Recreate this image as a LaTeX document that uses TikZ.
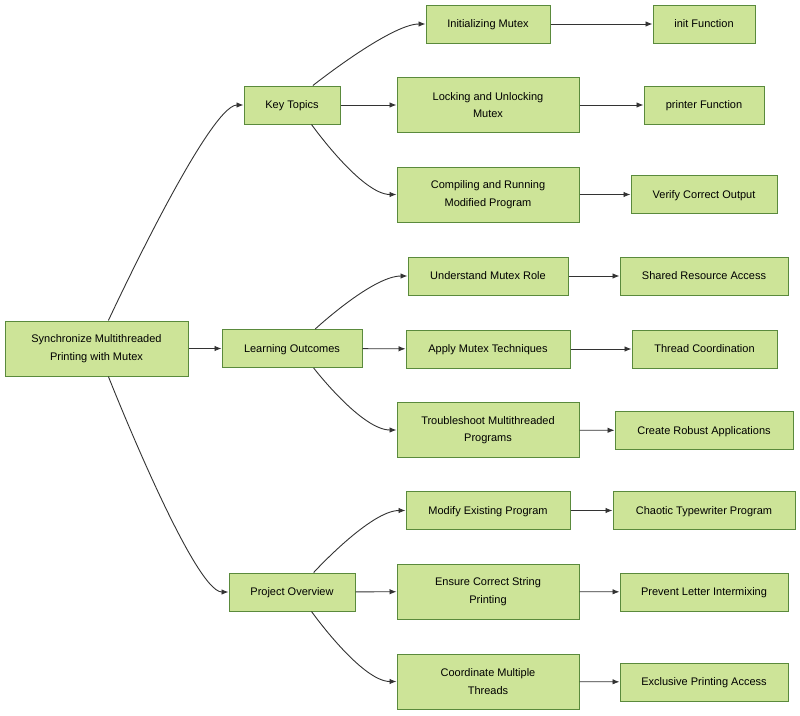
\documentclass[tikz,border=0pt]{standalone}
\usepackage{fontspec}
\setmainfont{Liberation Sans}
\usetikzlibrary{arrows.meta}
\definecolor{boxfill}{HTML}{CDE498}
\definecolor{boxline}{HTML}{5A8A3C}
\definecolor{edgeline}{HTML}{333333}
\begin{document}
\begin{tikzpicture}[x=1pt, y=-1pt,
		tall/.style={draw=boxline, fill=boxfill, line width=1pt, inner sep=0pt, align=center, minimum height=55pt, font=\fontsize{11}{17.5}\selectfont},
		box/.style={tall, minimum height=38pt, text height=9.5pt, text depth=2pt},
		edge/.style={draw=edgeline, line width=0.9pt, -{Latex[length=7pt,width=5.5pt]}}]
	\useasboundingbox (0,0) rectangle (800,715);
			% root and first level
			\node (root) [tall, minimum width=183pt] at (96.5,348.5) {Synchronize Multithreaded\\Printing with Mutex};
			\node (kt) [box, minimum width=96pt] at (292,105) {Key Topics};
			\node (lo) [box, minimum width=140pt] at (292,348.5) {Learning Outcomes};
			\node (po) [box, minimum width=126pt] at (292,592) {Project Overview};
			% second level
			\node (init) [box, minimum width=124pt] at (488,24) {Initializing Mutex};
			\node (lock) [tall, minimum width=182pt] at (488,105) {Locking and Unlocking\\Mutex};
			\node (comp) [tall, minimum width=182pt] at (488,194.5) {Compiling and Running\\Modified Program};
			\node (und) [box, minimum width=160pt] at (488,276) {Understand Mutex Role};
			\node (app) [box, minimum width=164pt] at (488,349) {Apply Mutex Techniques};
			\node (trb) [tall, minimum width=182pt] at (488,430) {Troubleshoot Multithreaded\\Programs};
			\node (mod) [box, minimum width=164pt] at (488,510.5) {Modify Existing Program};
			\node (ens) [tall, minimum width=182pt] at (488,591.5) {Ensure Correct String\\Printing};
			\node (coo) [tall, minimum width=182pt] at (488,681.5) {Coordinate Multiple\\Threads};
			% third level
			\node (initf) [box, minimum width=102pt] at (704,24) {init Function};
			\node (prt) [box, minimum width=120pt] at (704,105) {printer Function};
			\node (ver) [box, minimum width=146pt] at (704,194.5) {Verify Correct Output};
			\node (shr) [box, minimum width=168pt] at (704,276) {Shared Resource Access};
			\node (thr) [box, minimum width=145pt] at (704.5,349) {Thread Coordination};
			\node (rob) [box, minimum width=178pt] at (704,430.5) {Create Robust Applications};
			\node (cha) [box, minimum width=182pt] at (704,510.5) {Chaotic Typewriter Program};
			\node (prv) [box, minimum width=168pt] at (704,592) {Prevent Letter Intermixing};
			\node (exc) [box, minimum width=168pt] at (704,682) {Exclusive Printing Access};
			% curved branches
			\draw [edge] (root.67) .. controls +(0,0) and +(-35,0) .. (kt.west);
			\draw [edge] (root.-67) .. controls +(0,0) and +(-35,0) .. (po.west);
			\draw [edge] (kt.43) .. controls +(0,0) and +(-35,0) .. (init.west);
			\draw [edge] (kt.-45) .. controls +(0,0) and +(-35,0) .. (comp.west);
			\draw [edge] (lo.40) .. controls +(0,0) and +(-35,0) .. (und.west);
			\draw [edge] (lo.-42) .. controls +(0,0) and +(-35,0) .. (trb.west);
			\draw [edge] (po.42) .. controls +(0,0) and +(-35,0) .. (mod.west);
			\draw [edge] (po.-45) .. controls +(0,0) and +(-35,0) .. (coo.west);
			% straight branches
			\draw [edge] (root) -- (lo);
			\draw [edge] (kt) -- (lock);
			\draw [edge] (lo) -- (app);
			\draw [edge] (po) -- (ens);
			\draw [edge] (init) -- (initf);
			\draw [edge] (lock) -- (prt);
			\draw [edge] (comp) -- (ver);
			\draw [edge] (und) -- (shr);
			\draw [edge] (app) -- (thr);
			\draw [edge] (trb) -- (rob);
			\draw [edge] (mod) -- (cha);
			\draw [edge] (ens) -- (prv);
			\draw [edge] (coo) -- (exc);
	\end{tikzpicture}
\end{document}
